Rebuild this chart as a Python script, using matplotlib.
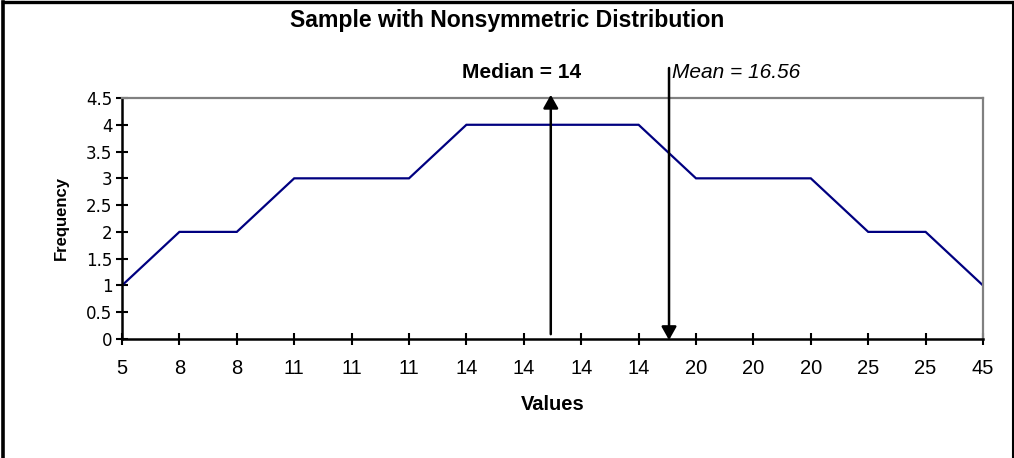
import numpy as np
import matplotlib.pyplot as plt
from matplotlib.lines import Line2D

# data
values = [5, 8, 8, 11, 11, 11, 14, 14, 14, 14, 20, 20, 20, 25, 25, 45]
frequency = [1, 2, 2, 3, 3, 3, 4, 4, 4, 4, 3, 3, 3, 2, 2, 1]
y_ticks = [0, 0.5, 1, 1.5, 2, 2.5, 3, 3.5, 4, 4.5]
median_label = "Median = 14"
mean_label = "Mean = 16.56"

plt.rcParams["font.family"] = ["Liberation Sans", "DejaVu Sans"]

fig = plt.figure(figsize=(10.14, 4.58), dpi=100)
ax = fig.add_axes([122 / 1014, 1 - 339 / 458, 861 / 1014, 241 / 458])

x = np.arange(len(values))
ax.plot(x, frequency, color="#000080", linewidth=1.6, solid_joinstyle="miter")

ax.set_xlim(0, len(values) - 1)
ax.set_ylim(0, 4.5)
ax.set_xticks(x)
ax.set_xticklabels([str(v) for v in values], fontsize=14.5)
ax.set_yticks(y_ticks)
ax.set_yticklabels([f"{t:g}" for t in y_ticks], fontsize=12,
                   family="DejaVu Sans")
ax.tick_params(axis="both", direction="inout", length=9, width=1.5)
ax.tick_params(axis="x", pad=10)
ax.tick_params(axis="y", pad=2.5)

for side in ["left", "bottom"]:
    ax.spines[side].set_color("black")
    ax.spines[side].set_linewidth(1.8)
for side in ["top", "right"]:
    ax.spines[side].set_color("#808080")
    ax.spines[side].set_linewidth(1.6)

ax.set_xlabel("Values", fontsize=14.5, fontweight="bold", labelpad=12)
ax.set_ylabel("Frequency", fontsize=12, fontweight="bold", labelpad=12.5)

fig.text(0.5, 1 - 20.5 / 458, "Sample with Nonsymmetric Distribution",
         ha="center", va="center", fontsize=16.6, fontweight="bold")

# median arrow (pointing up) and mean arrow (pointing down)
ax.annotate("", xy=(7.47, 4.56), xytext=(7.47, 0.09),
            arrowprops=dict(arrowstyle="-|>,head_length=0.8,head_width=0.45",
                            color="black", lw=1.8, shrinkA=0, shrinkB=0),
            annotation_clip=False)
ax.annotate("", xy=(9.53, -0.02), xytext=(9.53, 5.06),
            arrowprops=dict(arrowstyle="-|>,head_length=0.8,head_width=0.45",
                            color="black", lw=1.8, shrinkA=0, shrinkB=0),
            annotation_clip=False)
ax.text(6.96, 4.98, median_label, ha="center", va="center", fontsize=15,
        fontweight="bold")
ax.text(9.58, 4.98, mean_label, ha="left", va="center", fontsize=15,
        style="italic")

# outer chart border (left, top, right)
fig.add_artist(Line2D([2.5 / 1014, 2.5 / 1014], [0, 1 - 1.5 / 458],
                      color="black", lw=2.6, transform=fig.transFigure))
fig.add_artist(Line2D([2.5 / 1014, 1 - 1.5 / 1014], [1 - 1.5 / 458, 1 - 1.5 / 458],
                      color="black", lw=2.4, transform=fig.transFigure))
fig.add_artist(Line2D([1 - 1.5 / 1014, 1 - 1.5 / 1014], [0, 1 - 1.5 / 458],
                      color="black", lw=1.5, transform=fig.transFigure))

fig.savefig("out.png", dpi=100)
